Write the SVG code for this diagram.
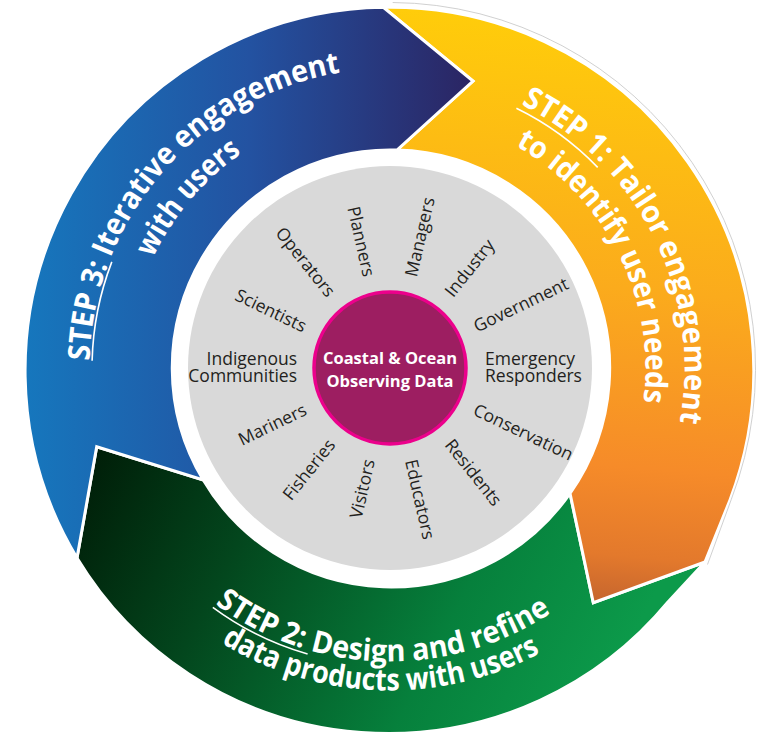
<svg xmlns="http://www.w3.org/2000/svg" width="759" height="735" viewBox="0 0 759 735">
<defs>
  <linearGradient id="gBlue" gradientUnits="userSpaceOnUse" x1="25" y1="0" x2="475" y2="0">
    <stop offset="0" stop-color="#1677bd"/>
    <stop offset="0.5" stop-color="#2352a1"/>
    <stop offset="1" stop-color="#2b2462"/>
  </linearGradient>
  <linearGradient id="gOrange" gradientUnits="userSpaceOnUse" x1="610" y1="20" x2="560" y2="610">
    <stop offset="0" stop-color="#ffcd0a"/>
    <stop offset="0.45" stop-color="#fbab1c"/>
    <stop offset="0.75" stop-color="#f68b29"/>
    <stop offset="0.9" stop-color="#e3792c"/>
    <stop offset="1" stop-color="#bf612f"/>
  </linearGradient>
  <linearGradient id="gGreen" gradientUnits="userSpaceOnUse" x1="100" y1="440" x2="600" y2="700">
    <stop offset="0" stop-color="#001e08"/>
    <stop offset="0.3" stop-color="#03461d"/>
    <stop offset="0.7" stop-color="#06803c"/>
    <stop offset="1" stop-color="#0c9a4a"/>
  </linearGradient>
  <path id="p1a" d="M521.1,104.5 A295,295 0 0 1 679.6,422.3"/>
  <path id="p1b" d="M515.6,145.7 A256,256 0 0 1 643.3,401.9"/>
  <path id="p3a" d="M89.6,360.6 A300,300 0 0 1 340,72.6"/>
  <path id="p3b" d="M153,258.2 A261,261 0 0 1 241.7,153.4"/>
  <path id="p2a" d="M215.2,604 A293,293 0 0 0 551.2,612.8"/>
  <path id="p2b" d="M221.3,643 A322,322 0 0 0 538.2,654.1"/>
</defs>
<style>
  .band{stroke:#fff;stroke-width:3;stroke-linejoin:miter}
  .step{font-family:"Open Sans","Noto Sans",sans-serif;font-weight:700;font-size:30.5px;fill:#fff}
  .ul{fill:none;stroke:#fff;stroke-width:1.6}
  .lbl{font-family:"Open Sans","Noto Sans",sans-serif;font-size:17.5px;fill:#231f20}
  .ctr{font-family:"Open Sans","Noto Sans",sans-serif;font-weight:700;font-size:16.5px;fill:#fff;text-anchor:middle}
</style>
<rect width="759" height="735" fill="#fff"/>

<g id="cycle-arrows">
  <path id="arrow-step2" class="band" fill="url(#gGreen)" d="M705,562 L668,602 A363.5,363.5 0 0 1 77,558 L96.7,446.7 L203.3,480 A218,218 0 0 0 570,493.3 L593.3,602.7 Z"/>
  <path id="arrow-step1" class="band" fill="url(#gOrange)" d="M383.3,7.3 A363.5,363.5 0 0 1 730,500 L705,562 L593.3,602.7 L570,493.3 A218,218 0 0 0 397,150 L473,81 Z"/>
  <path id="arrow-step3" class="band" fill="url(#gBlue)" d="M77,558 A363.5,363.5 0 0 1 383.3,7.3 L473,81 L397,150 A218,218 0 0 0 203.3,480 L96.7,446.7 Z"/>
  <path fill="none" stroke="#c4c4c4" stroke-width="0.8" d="M392.7,2.5 A366,366 0 0 1 731.2,499.7 L707.5,564.5"/>
</g>

<g id="step1">
  <text class="step"><textPath href="#p1a" textLength="381" lengthAdjust="spacingAndGlyphs">STEP 1: Tailor engagement</textPath></text>
  <text class="step"><textPath href="#p1b" textLength="304" lengthAdjust="spacingAndGlyphs">to identify user needs</textPath></text>
  <path class="ul" d="M516.4,108.3 A289.5,289.5 0 0 1 597.7,167.4"/>
</g>
<g id="step2">
  <text class="step"><textPath href="#p2a" textLength="358" lengthAdjust="spacingAndGlyphs">STEP 2: Design and refine</textPath></text>
  <text class="step"><textPath href="#p2b" textLength="334" lengthAdjust="spacingAndGlyphs">data products with users</textPath></text>
  <path class="ul" d="M212.8,607.3 A297,297 0 0 0 307.6,654"/>
</g>
<g id="step3">
  <text class="step"><textPath href="#p3a" textLength="414" lengthAdjust="spacingAndGlyphs">STEP 3: Iterative engagement</textPath></text>
  <text class="step"><textPath href="#p3b" textLength="139" lengthAdjust="spacingAndGlyphs">with users</textPath></text>
  <path class="ul" d="M92.1,360.7 A297.5,297.5 0 0 1 111.8,261.9"/>
</g>

<g id="users">
  <circle cx="390" cy="368" r="202" fill="#d9d9d9"/>
  <g class="lbl">
    <text x="485" y="365">Emergency</text>
    <text x="485" y="382">Responders</text>
    <text x="297" y="365" text-anchor="end">Indigenous</text>
    <text x="297" y="382" text-anchor="end">Communities</text>
    <g transform="translate(390,368)">
      <text transform="rotate(-77.14)" x="94" y="6">Managers</text>
      <text transform="rotate(-51.43)" x="94" y="6">Industry</text>
      <text transform="rotate(-25.71)" x="94" y="6">Government</text>
      <text transform="rotate(25.71)" x="94" y="6">Conservation</text>
      <text transform="rotate(51.43)" x="94" y="6">Residents</text>
      <text transform="rotate(77.14)" x="94" y="6">Educators</text>
      <text transform="rotate(-77.14)" x="-94" y="6" text-anchor="end">Visitors</text>
      <text transform="rotate(-51.43)" x="-94" y="6" text-anchor="end">Fisheries</text>
      <text transform="rotate(-25.71)" x="-94" y="6" text-anchor="end">Mariners</text>
      <text transform="rotate(25.71)" x="-94" y="6" text-anchor="end">Scientists</text>
      <text transform="rotate(51.43)" x="-94" y="6" text-anchor="end">Operators</text>
      <text transform="rotate(77.14)" x="-94" y="6" text-anchor="end">Planners</text>
    </g>
  </g>
</g>

<g id="center">
  <circle cx="390" cy="368" r="76" fill="#9d1e61" stroke="#ec008c" stroke-width="3.5"/>
  <text class="ctr" x="390" y="364">Coastal &amp; Ocean</text>
  <text class="ctr" x="390" y="387">Observing Data</text>
</g>
</svg>
